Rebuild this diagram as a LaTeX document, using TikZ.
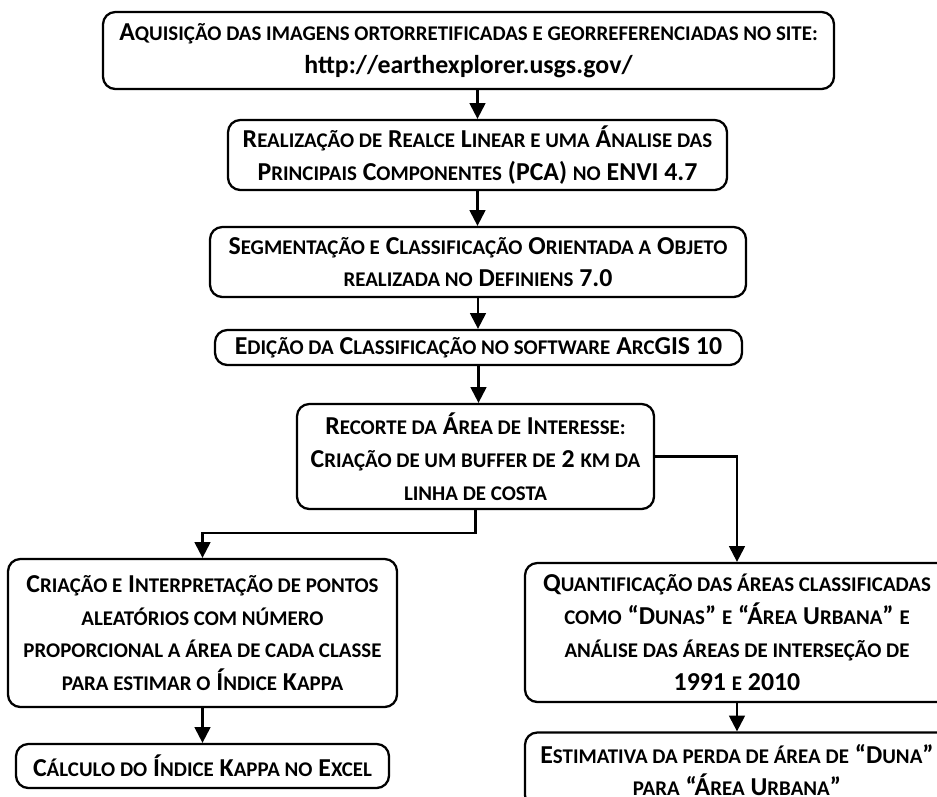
\documentclass[tikz,border=0pt]{standalone}
\usepackage{fontspec}
\setmainfont{Carlito}
\usetikzlibrary{arrows.meta}
\newcommand{\x}[1]{{\fontsize{11.9}{18.7}\selectfont\MakeUppercase{#1}}}
\tikzset{
  box/.style={draw, line width=1.3pt, rounded corners=7pt, align=center, inner sep=0pt,
    font=\fontsize{14.7}{18.7}\selectfont\bfseries},
  conn/.style={line width=1.3pt, -{Triangle[length=9pt,width=9pt]}}
}
\begin{document}
\begin{tikzpicture}[x=0.02cm,y=-0.02cm]
\clip (0,0) rectangle (937,796);
\node[box, minimum width=731*0.02cm, minimum height=77*0.02cm] (b1) at (468.5,50.5)
  {A\x{quisição das imagens ortorretificadas e georreferenciadas no site:}\\
   http://earthexplorer.usgs.gov/};
\node[box, minimum width=499*0.02cm, minimum height=70*0.02cm] (b2) at (477.5,155)
  {R\x{ealização de} R\x{ealce} L\x{inear e uma} Á\x{nalise das}\\
   P\x{rincipais} C\x{omponentes} (PCA) \x{no} ENVI 4.7};
\node[box, minimum width=536*0.02cm, minimum height=70*0.02cm] (b3) at (478,262)
  {S\x{egmentação e} C\x{lassificação} O\x{rientada a} O\x{bjeto}\\
   \x{realizada no} D\x{efiniens} 7.0};
\node[box, minimum width=527*0.02cm, minimum height=35*0.02cm] (b4) at (478.5,347.5)
  {E\x{dição da} C\x{lassificação no software} A\x{rc}GIS 10};
\node[box, minimum width=357*0.02cm, minimum height=105*0.02cm] (b5) at (475.5,456.5)
  {R\x{ecorte da} Á\x{rea de} I\x{nteresse:}\\
   C\x{riação de um buffer de} 2 \x{km da}\\
   \x{linha de costa}};
\node[box, minimum width=389*0.02cm, minimum height=148*0.02cm] (b6) at (202.5,633)
  {C\x{riação e} I\x{nterpretação de pontos}\\
   \x{aleatórios com número}\\
   \x{proporcional a área de cada classe}\\
   \x{para estimar o} Í\x{ndice} K\x{appa}};
\node[box, minimum width=424*0.02cm, minimum height=139*0.02cm] (b7) at (737,632.5)
  {Q\x{uantificação das áreas classificadas}\\
   \x{como} “D\x{unas}” \x{e} “Á\x{rea} U\x{rbana}” \x{e}\\
   \x{análise das áreas de interseção de}\\
   1991 \x{e} 2010};
\node[box, minimum width=373*0.02cm, minimum height=44*0.02cm] (b8) at (202.5,766)
  {C\x{álculo do} Í\x{ndice} K\x{appa no} E\x{xcel}};
\node[box, minimum width=424*0.02cm, minimum height=75*0.02cm] (b9) at (737,770)
  {E\x{stimativa da perda de área de} “D\x{una}”\\
   \x{para} “Á\x{rea} U\x{rbana}”};
\draw[conn] (b2.north |- b1.south) -- (b2.north);
\draw[conn] (b2.south) -- (b2.south |- b3.north);
\draw[conn] (b3.south) -- (b3.south |- b4.north);
\draw[conn] (b4.south) -- (b4.south |- b5.north);
\coordinate (j1) at (475.5,533);
\draw[conn] (b5.south) -- (j1) -| (b6.north);
\draw[conn] (b5.east) -| (b7.north);
\draw[conn] (b6.south) -- (b8.north);
\draw[conn] (b7.south) -- (b9.north);
\end{tikzpicture}
\end{document}
